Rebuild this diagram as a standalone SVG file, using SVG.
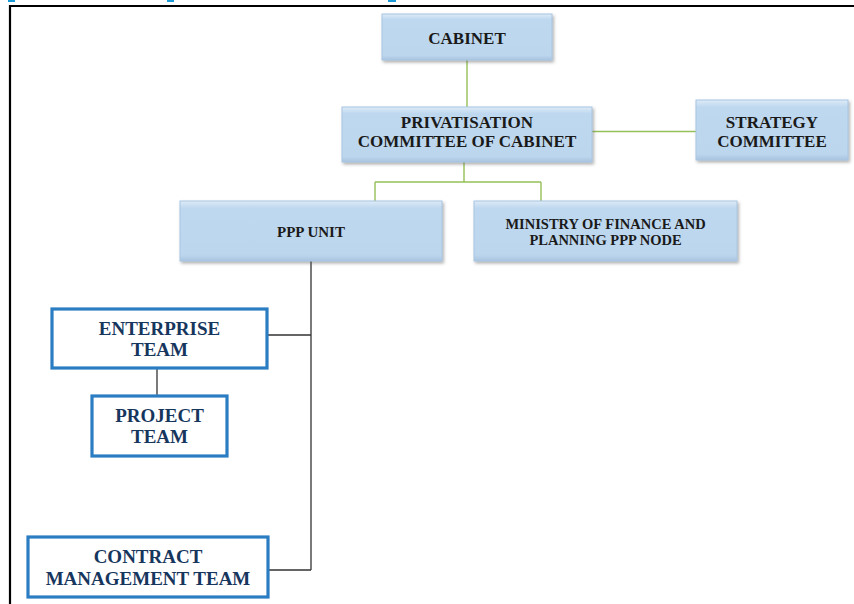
<svg xmlns="http://www.w3.org/2000/svg" width="854" height="604" viewBox="0 0 854 604">
<style>
.bt{font-family:"Liberation Serif","Times New Roman",serif;font-weight:bold;fill:#1a1a1a;text-anchor:middle}
.wt{font-family:"Liberation Serif","Times New Roman",serif;font-weight:bold;font-size:19px;fill:#17365d;text-anchor:middle}
.bb{fill:url(#bg);stroke:#a8c5e2;stroke-width:1}
.wb{fill:#ffffff;stroke:#2a7dc2;stroke-width:3.2}
.g{stroke:#95c058;stroke-width:1.4;fill:none}
.k{stroke:#333333;stroke-width:1.3;fill:none}
</style>
<defs>
<linearGradient id="bg" x1="0" y1="0" x2="0" y2="1">
<stop offset="0" stop-color="#deebf7"/>
<stop offset="0.12" stop-color="#bed8ef"/>
<stop offset="0.9" stop-color="#bcd6ee"/>
<stop offset="1" stop-color="#a9c4df"/>
</linearGradient>
<filter id="sh" x="-10%" y="-10%" width="120%" height="130%">
<feDropShadow dx="1.5" dy="2" stdDeviation="1.5" flood-color="#555555" flood-opacity="0.45"/>
</filter>
</defs>
<rect width="854" height="604" fill="#ffffff"/>
<g id="heading-fragments" fill="#1a9ad6">
<rect x="8" y="0" width="7" height="2"/>
<rect x="167" y="0" width="7" height="2"/>
<rect x="388" y="0" width="8" height="2"/>
</g>
<path d="M10,604 V6 H854" fill="none" stroke="#000000" stroke-width="2.2"/>
<g id="connectors">
<path class="g" d="M467,60 V107"/>
<path class="g" d="M592,131.5 H696"/>
<path class="g" d="M464,162 V182 M375,182 H541 M375,182 V201 M541,182 V201"/>
<path class="k" d="M311,261 V570 M267,335 H311 M268,570 H311"/>
<path class="k" d="M157,368 V395"/>
</g>
<g id="cabinet">
<rect class="bb" x="382" y="14" width="170" height="46" filter="url(#sh)"/>
<text class="bt" x="467" y="44" font-size="17">CABINET</text>
</g>
<g id="privatisation">
<rect class="bb" x="342" y="107" width="250" height="55" filter="url(#sh)"/>
<text class="bt" x="467" y="128" font-size="17">PRIVATISATION</text>
<text class="bt" x="467" y="147" font-size="17">COMMITTEE OF CABINET</text>
</g>
<g id="strategy">
<rect class="bb" x="696" y="100" width="152" height="60" filter="url(#sh)"/>
<text class="bt" x="772" y="128" font-size="17">STRATEGY</text>
<text class="bt" x="772" y="147" font-size="17">COMMITTEE</text>
</g>
<g id="ppp-unit">
<rect class="bb" x="180" y="201" width="262" height="60" filter="url(#sh)"/>
<text class="bt" x="311" y="237" font-size="15">PPP UNIT</text>
</g>
<g id="ministry">
<rect class="bb" x="474" y="201" width="263" height="60" filter="url(#sh)"/>
<text class="bt" x="605.5" y="229" font-size="14.5">MINISTRY OF FINANCE AND</text>
<text class="bt" x="605.5" y="245" font-size="14.5">PLANNING PPP NODE</text>
</g>
<g id="enterprise">
<rect class="wb" x="52" y="309" width="215" height="59"/>
<text class="wt" x="159.5" y="335">ENTERPRISE</text>
<text class="wt" x="159.5" y="356">TEAM</text>
</g>
<g id="project">
<rect class="wb" x="92" y="396" width="135" height="60"/>
<text class="wt" x="159.5" y="422">PROJECT</text>
<text class="wt" x="159.5" y="443">TEAM</text>
</g>
<g id="contract">
<rect class="wb" x="28" y="537" width="240" height="60"/>
<text class="wt" x="148" y="563">CONTRACT</text>
<text class="wt" x="148" y="585">MANAGEMENT TEAM</text>
</g>
</svg>
